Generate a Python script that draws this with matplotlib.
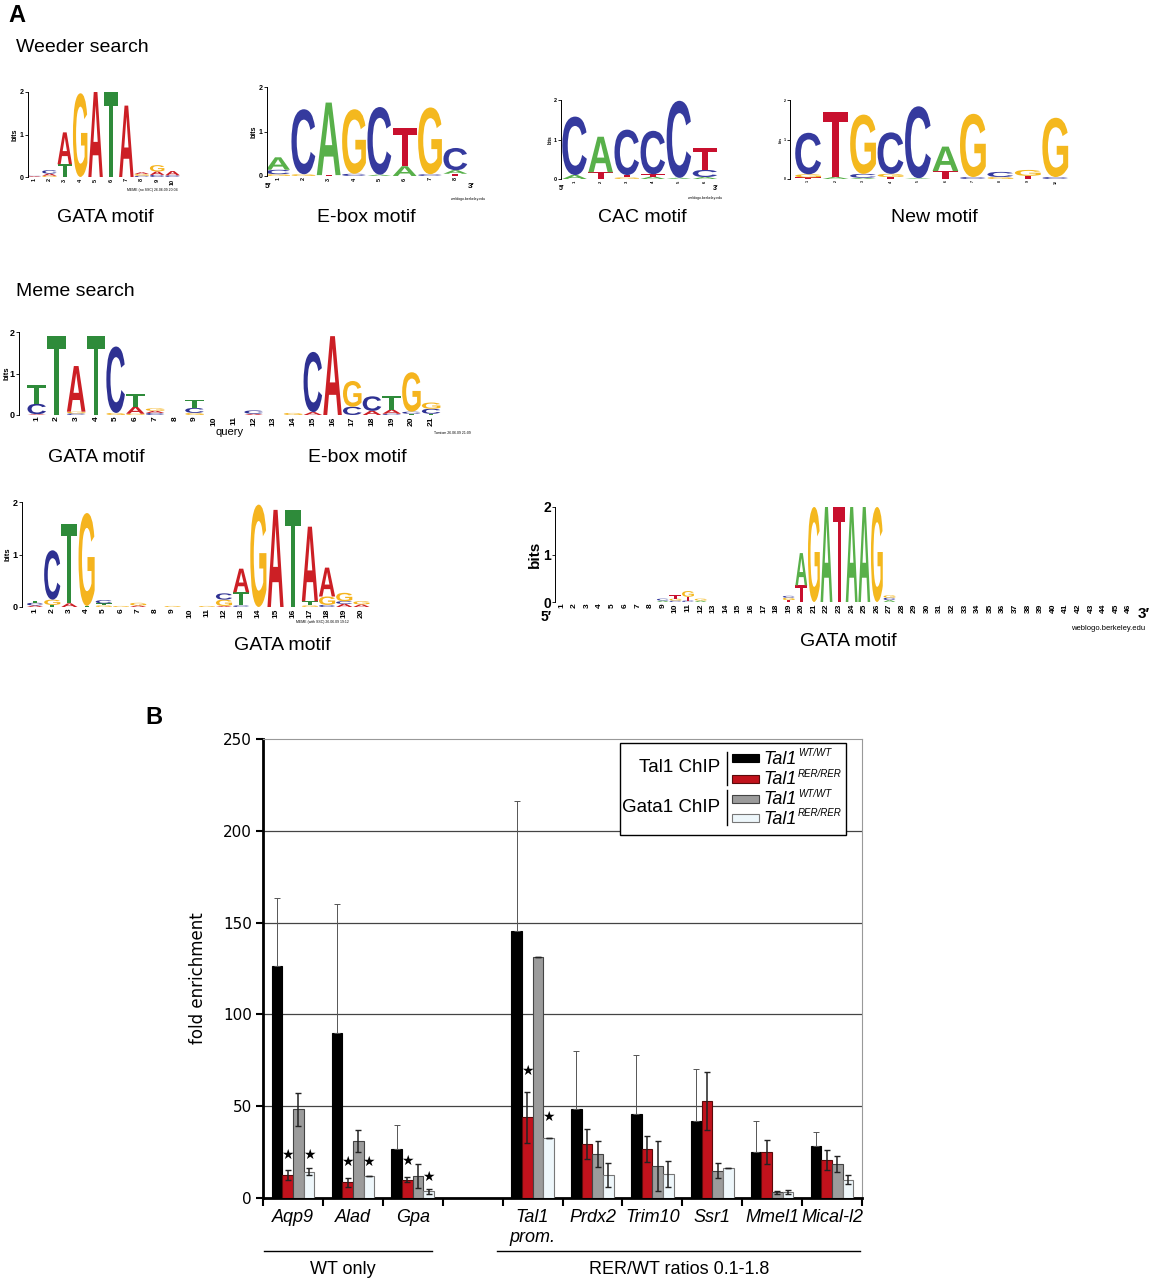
import matplotlib
matplotlib.use('Agg')
import numpy as np
import matplotlib.pyplot as plt
from matplotlib.textpath import TextPath
from matplotlib.patches import PathPatch, Rectangle
from matplotlib.font_manager import FontProperties
from matplotlib.transforms import Affine2D

W, H = 1152, 1280
plt.rcParams['font.family'] = ['Liberation Sans', 'DejaVu Sans']

# ---------------- panel A: motif logos (letter, bits) stacked bottom->top ----------------
weeder_gata = [
    [('A', 0.02), ('C', 0.01)],
    [('G', 0.03), ('A', 0.05), ('C', 0.08)],
    [('T', 0.3), ('A', 0.75)],
    [('G', 1.97)],
    [('A', 2.0)],
    [('T', 2.0)],
    [('A', 1.68)],
    [('C', 0.03), ('G', 0.04), ('A', 0.04)],
    [('C', 0.05), ('A', 0.08), ('G', 0.15)],
    [('C', 0.04), ('A', 0.1)],
]
weeder_ebox = [
    [('G', 0.04), ('C', 0.1), ('A', 0.28)],
    [('G', 0.04), ('C', 1.46)],
    [('T', 0.02), ('A', 1.63)],
    [('C', 0.05), ('G', 1.45)],
    [('A', 0.03), ('C', 1.52)],
    [('A', 0.22), ('T', 0.85)],
    [('C', 0.04), ('G', 1.5)],
    [('T', 0.05), ('A', 0.08), ('C', 0.5)],
]
weeder_cac = [
    [('A', 0.1), ('C', 1.48)],
    [('T', 0.17), ('A', 0.9)],
    [('G', 0.04), ('T', 0.06), ('C', 1.15)],
    [('A', 0.06), ('T', 0.06), ('C', 1.1)],
    [('A', 0.03), ('C', 1.95)],
    [('A', 0.05), ('C', 0.18), ('T', 0.55)],
]
weeder_new = [
    [('T', 0.04), ('G', 0.08), ('C', 1.05)],
    [('A', 0.05), ('T', 1.65)],
    [('A', 0.03), ('C', 0.1), ('G', 1.5)],
    [('T', 0.05), ('G', 0.08), ('C', 1.05)],
    [('A', 0.02), ('C', 1.82)],
    [('T', 0.2), ('A', 0.62)],
    [('C', 0.05), ('G', 1.6)],
    [('G', 0.05), ('C', 0.13)],
    [('T', 0.08), ('G', 0.15)],
    [('C', 0.05), ('G', 1.5)],
]
meme_gata_ebox = [
    [('A', 0.02), ('C', 0.25), ('T', 0.45)],
    [('T', 1.9)],
    [('C', 0.04), ('G', 0.04), ('A', 1.1)],
    [('T', 1.9)],
    [('G', 0.05), ('C', 1.6)],
    [('G', 0.03), ('A', 0.17), ('T', 0.3)],
    [('C', 0.05), ('A', 0.05), ('G', 0.06)],
    [],
    [('G', 0.05), ('C', 0.12), ('T', 0.2)],
    [],
    [],
    [('A', 0.03), ('C', 0.08)],
    [],
    [('G', 0.05)],
    [('A', 0.07), ('C', 1.45)],
    [('A', 1.9)],
    [('C', 0.2), ('G', 0.62)],
    [('A', 0.1), ('C', 0.35)],
    [('C', 0.03), ('A', 0.1), ('T', 0.33)],
    [('T', 0.03), ('C', 0.05), ('G', 0.95)],
    [('T', 0.03), ('C', 0.12), ('G', 0.15)],
]
meme_ctg_gata = [
    [('A', 0.03), ('C', 0.05), ('T', 0.04)],
    [('T', 0.04), ('G', 0.1), ('C', 0.94)],
    [('A', 0.07), ('T', 1.52)],
    [('T', 0.02), ('G', 1.77)],
    [('G', 0.03), ('T', 0.04), ('C', 0.06)],
    [('G', 0.02)],
    [('A', 0.03), ('G', 0.05)],
    [],
    [('G', 0.02)],
    [],
    [('G', 0.02)],
    [('A', 0.02), ('G', 0.12), ('C', 0.12)],
    [('C', 0.03), ('T', 0.25), ('A', 0.45)],
    [('G', 1.95)],
    [('A', 1.85)],
    [('T', 1.85)],
    [('G', 0.03), ('T', 0.08), ('A', 1.42)],
    [('C', 0.04), ('G', 0.16), ('A', 0.55)],
    [('A', 0.06), ('C', 0.05), ('G', 0.16)],
    [('A', 0.05), ('G', 0.06)],
]
weblogo_gata_n = 46
weblogo_gata = {
    9: [('A', 0.03), ('C', 0.04)],
    10: [('C', 0.03), ('G', 0.04), ('T', 0.07)],
    11: [('C', 0.03), ('T', 0.08), ('G', 0.12)],
    12: [('A', 0.03), ('G', 0.04)],
    19: [('T', 0.04), ('G', 0.05), ('C', 0.04)],
    20: [('T', 0.35), ('A', 0.68)],
    21: [('G', 2.0)],
    22: [('A', 2.0)],
    23: [('T', 2.0)],
    24: [('A', 2.0)],
    25: [('A', 2.0)],
    26: [('G', 2.0)],
    27: [('A', 0.04), ('C', 0.05), ('G', 0.05)],
}

meme_colors = {'A': '#CC1F25', 'C': '#2E3192', 'G': '#F5B41E', 'T': '#2E8B3A'}
weblogo_colors = {'A': '#58B04A', 'C': '#353A9E', 'G': '#F4B81E', 'T': '#C8102E'}

# ---------------- panel B: ChIP fold enrichment ----------------
genes = ['Aqp9', 'Alad', 'Gpa', 'Tal1\nprom.', 'Prdx2', 'Trim10', 'Ssr1', 'Mmel1', 'Mical-l2']
tal1_wt = [126.5, 90, 26.5, 145.5, 48.5, 46, 42, 24.8, 28.4]
tal1_wt_err = [37, 70, 13.5, 70.5, 31.5, 32, 28.5, 17, 7.3]
tal1_rer = [12.5, 8.5, 10, 44, 29.5, 26.8, 52.8, 25.2, 20.8]
tal1_rer_err = [2.5, 2.5, 1.2, 14, 8, 7, 16, 6.6, 5.4]
gata1_wt = [48.4, 30.8, 11.8, 131, 23.9, 17.6, 14.9, 3.0, 18.5]
gata1_wt_err = [9, 6, 6.5, 0, 7, 13.6, 4, 1, 4.5]
gata1_rer = [14.3, 11.8, 3.6, 32.8, 12.5, 13.2, 16.1, 3.4, 10]
gata1_rer_err = [2, 0, 1.5, 0, 6.5, 7, 0, 1, 2.3]
star_gene = [0, 0, 1, 1, 2, 2, 3, 3]
star_series = [1, 3, 1, 3, 1, 3, 1, 3]
star_y = [23.4, 23.4, 19.4, 19.4, 20.3, 11.6, 69, 44]
legend_sup = ['WT/WT', 'RER/RER', 'WT/WT', 'RER/RER']

fig = plt.figure(figsize=(W / 100, H / 100), dpi=100)


def px_axes(x0, y0, x1, y1):
    return fig.add_axes([x0 / W, 1 - y1 / H, (x1 - x0) / W, (y1 - y0) / H])


LOGO_FONT = FontProperties(family='Liberation Sans', weight='bold')


def draw_letter(ax, letter, x, y, w, h, color):
    tp = TextPath((0, 0), letter, size=1, prop=LOGO_FONT)
    bb = tp.get_extents()
    tr = Affine2D().translate(-bb.x0, -bb.y0).scale(w / bb.width, h / bb.height).translate(x - w / 2, y)
    ax.add_patch(PathPatch(tr.transform_path(tp), fc=color, ec='none', lw=0))


def draw_logo(ax, columns, colors, n, xlim, yfs, xfs, bitsfs):
    for pos, stack in columns.items():
        y = 0
        for letter, hgt in stack:
            draw_letter(ax, letter, pos, y, 0.94, hgt, colors[letter])
            y += hgt
    ax.set_xlim(*xlim)
    ax.set_ylim(0, 2)
    ax.set_yticks([0, 1, 2])
    ax.set_yticklabels(['0', '1', '2'], fontsize=yfs, fontweight='bold')
    ax.set_xticks(range(1, n + 1))
    ax.set_xticklabels([str(i) for i in range(1, n + 1)], fontsize=xfs, rotation=90, fontweight='bold')
    for s in ['top', 'right', 'bottom']:
        ax.spines[s].set_visible(False)
    ax.spines['left'].set_linewidth(0.7)
    ax.tick_params(axis='x', length=0, pad=1)
    ax.tick_params(axis='y', length=2, width=0.6, pad=1)
    ax.set_ylabel('bits', fontsize=bitsfs, fontweight='bold', labelpad=1)
    ax.patch.set_alpha(0)


def as_dict(cols):
    return {i + 1: c for i, c in enumerate(cols)}


ax1 = px_axes(28, 92, 181, 177)
draw_logo(ax1, as_dict(weeder_gata), meme_colors, 10, (0.61, 10.55), 5, 4, 5)
ax2 = px_axes(267, 87, 468, 176)
draw_logo(ax2, as_dict(weeder_ebox), weblogo_colors, 8, (0.565, 8.5), 5, 4, 5)
ax3 = px_axes(561, 100, 718, 179)
draw_logo(ax3, as_dict(weeder_cac), weblogo_colors, 6, (0.48, 6.5), 4, 3, 3.5)
ax4 = px_axes(790, 100, 1069, 179)
draw_logo(ax4, as_dict(weeder_new), weblogo_colors, 10, (0.34, 10.5), 2.5, 2.5, 2.5)
ax5 = px_axes(19, 332, 441, 415)
draw_logo(ax5, as_dict(meme_gata_ebox), meme_colors, 21, (0.1, 21.5), 6.5, 6, 5.5)
ax5.yaxis.set_label_coords(-0.02, 0.5)
ax5.set_xlabel('query', fontsize=8, labelpad=1)
ax6 = px_axes(22, 502, 370, 607)
draw_logo(ax6, as_dict(meme_ctg_gata), meme_colors, 20, (0.24, 20.5), 6.5, 6, 5.5)
ax7 = px_axes(555, 507, 1135, 602)
draw_logo(ax7, weblogo_gata, weblogo_colors, weblogo_gata_n, (0.44, 46.5), 10, 6, 11)

# ---------------- bar chart ----------------
ax = px_axes(263, 739, 862, 1198)
idx = np.arange(len(genes))
xpos = idx + (idx >= 3)
series = [(tal1_wt, '#000000', '#000000'), (tal1_rer, '#C1121C', '#5a0a0a'),
          (gata1_wt, '#9B9B9B', '#444444'), (gata1_rer, '#EEF7FB', '#777777')]
errs = [None, tal1_rer_err, gata1_wt_err, gata1_rer_err]
bw = 0.178
offs = [-1.5 * bw, -0.5 * bw, 0.5 * bw, 1.5 * bw]
for i, (vals, fc, ec) in enumerate(series):
    ax.bar(xpos + offs[i], vals, width=bw, color=fc, edgecolor=ec, linewidth=0.8, zorder=3)
ax.errorbar(xpos + offs[0], tal1_wt, yerr=[np.zeros(len(genes)), tal1_wt_err], fmt='none',
            ecolor='#555555', elinewidth=0.7, capsize=2.5, capthick=0.7, zorder=4)
for i in range(1, 4):
    ax.errorbar(xpos + offs[i], series[i][0], yerr=errs[i], fmt='none',
                ecolor='#222222', elinewidth=1.1, capsize=2.5, capthick=1.0, zorder=4)
for g, s, y in zip(star_gene, star_series, star_y):
    ax.text(xpos[g] + offs[s], y, '\u2605', fontsize=10, ha='center', va='center',
            family='DejaVu Sans', zorder=5)

for gy in [50, 100, 150, 200]:
    ax.axhline(gy, color='#444444', lw=0.9, zorder=1)
ax.set_ylim(0, 250)
ax.set_xlim(-0.5, 9.5)
ax.set_yticks([0, 50, 100, 150, 200, 250])
ax.set_yticklabels(['0', '50', '100', '150', '200', '250'], fontsize=11, family='DejaVu Sans')
ax.set_xticks(xpos)
ax.set_xticklabels(genes, fontsize=13, fontstyle='italic', va='top')
ax.set_xticks(np.arange(-0.5, 10, 1), minor=True)
ax.tick_params(axis='x', which='major', length=0, pad=8)
ax.tick_params(axis='x', which='minor', length=6, width=1.5, direction='out')
ax.tick_params(axis='y', length=5, width=1.5, direction='out', pad=3)
ax.spines['left'].set_linewidth(2)
ax.spines['bottom'].set_linewidth(2)
ax.spines['top'].set_color('#999999')
ax.spines['right'].set_color('#999999')

# ---------------- overlay for labels ----------------
ov = fig.add_axes([0, 0, 1, 1])
ov.set_xlim(0, W)
ov.set_ylim(H, 0)
ov.axis('off')

ov.text(8, 16, 'A', fontsize=17, fontweight='bold', va='center')
ov.text(145, 718, 'B', fontsize=17, fontweight='bold', va='center')
ov.text(16, 47, 'Weeder search', fontsize=14, va='center')
ov.text(16, 291, 'Meme search', fontsize=14, va='center')
for x, y, t in [(105, 217, 'GATA motif'), (366, 217, 'E-box motif'), (642, 217, 'CAC motif'),
                (934, 217, 'New motif'), (96, 457, 'GATA motif'), (357, 457, 'E-box motif'),
                (282, 646, 'GATA motif'), (848, 642, 'GATA motif')]:
    ov.text(x, y, t, fontsize=14, ha='center', va='center')

# small logo annotations
ov.text(265, 186, "5\u2032", fontsize=6, fontweight='bold', va='center')
ov.text(468, 186, "3\u2032", fontsize=6, fontweight='bold', va='center')
ov.text(468, 199, 'weblogo.berkeley.edu', fontsize=2.5, ha='center', va='center')
ov.text(559, 188, "5\u2032", fontsize=5, fontweight='bold', va='center')
ov.text(713, 188, "3\u2032", fontsize=5, fontweight='bold', va='center')
ov.text(705, 198, 'weblogo.berkeley.edu', fontsize=2.5, ha='center', va='center')
ov.text(152, 190, 'MEME (no SSC) 26.06.09 20:04', fontsize=2.5, ha='center', va='center')
ov.text(452, 433, 'Tomtom 26.06.09 21:09', fontsize=2.5, ha='center', va='center')
ov.text(322, 622, 'MEME (with SSC) 26.06.09 19:12', fontsize=2.5, ha='center', va='center')
ov.text(541, 617, "5\u2032", fontsize=10, fontweight='bold', va='center')
ov.text(1138, 614, "3\u2032", fontsize=11, fontweight='bold', va='center')
ov.text(1108, 628, 'weblogo.berkeley.edu', fontsize=5.5, ha='center', va='center')

# bar chart labels
ov.text(198, 978, 'fold enrichment', fontsize=12, rotation=90, ha='center', va='center',
        family='DejaVu Sans')
ov.plot([264, 432], [1251, 1251], color='black', lw=1)
ov.plot([497, 860], [1251, 1251], color='black', lw=1)
ov.text(343, 1269, 'WT only', fontsize=13, ha='center', va='center')
ov.text(679, 1269, 'RER/WT ratios 0.1-1.8', fontsize=13, ha='center', va='center')

# legend
ov.add_patch(Rectangle((620, 743), 226, 92, fc='white', ec='black', lw=1, zorder=5))
ov.text(720, 768, 'Tal1 ChIP', fontsize=13.5, ha='right', va='center', zorder=6)
ov.text(720, 808, 'Gata1 ChIP', fontsize=13.5, ha='right', va='center', zorder=6)
ov.plot([727, 727], [752, 785], color='black', lw=1, zorder=6)
ov.plot([727, 727], [790, 825], color='black', lw=1, zorder=6)
leg_y = [758, 779, 799, 818]
for (vals, fc, ec), y, sup in zip(series, leg_y, legend_sup):
    ov.add_patch(Rectangle((732, y - 4), 27, 8, fc=fc, ec=ec, lw=0.8, zorder=6))
    t = ov.text(763, y + 1, 'Tal1', fontsize=13, fontstyle='italic', ha='left', va='center', zorder=6)
    ov.annotate(sup, xy=(1.0, 0.85), xycoords=t, xytext=(1, 0), textcoords='offset points',
                fontsize=7, fontstyle='italic', ha='left', va='center', zorder=6)

fig.savefig('out.png', dpi=100)
